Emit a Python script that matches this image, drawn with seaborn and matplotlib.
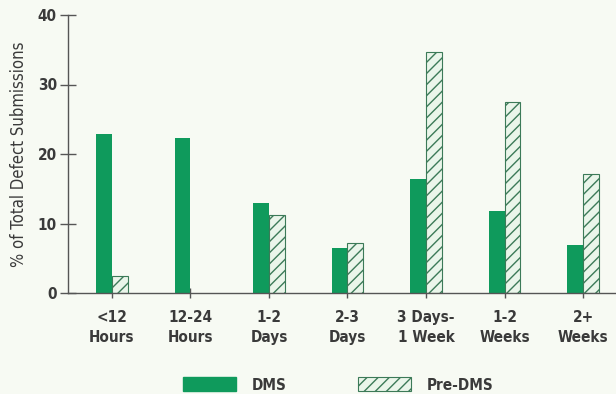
import matplotlib
matplotlib.use("Agg")
import matplotlib.pyplot as plt
from matplotlib.patches import Patch
import seaborn as sns
import pandas as pd

# Time to resolve a defect submission, before and after DMS
categories = ["<12\nHours", "12-24\nHours", "1-2\nDays", "2-3\nDays",
              "3 Days-\n1 Week", "1-2\nWeeks", "2+\nWeeks"]
dms = [22.9, 22.3, 12.9, 6.5, 16.4, 11.8, 6.9]
pre_dms = [2.4, 0.0, 11.2, 7.2, 34.7, 27.5, 17.1]
series = ["DMS", "Pre-DMS"]
yticks = [0, 10, 20, 30, 40]

df = pd.DataFrame({
    "category": categories * 2,
    "series": [series[0]] * len(categories) + [series[1]] * len(categories),
    "value": dms + pre_dms,
})

BG = "#f7faf3"
GREEN = "#0f9a5c"
HATCH_FILL = "#eaf5ea"
HATCH_EDGE = "#3c7a58"
TEXT = "#3a3a3a"
FAMILY = ["DejaVu Sans"]

sns.set_theme(style="white")
plt.rcParams["font.family"] = FAMILY
plt.rcParams["font.stretch"] = "condensed"
plt.rcParams["hatch.linewidth"] = 1.0

fig = plt.figure(figsize=(6.16, 3.94), dpi=100, facecolor=BG)
ax = fig.add_axes([68 / 616, 1 - 293 / 394, 1 - 68 / 616, (293 - 15) / 394])
ax.set_facecolor(BG)

sns.barplot(data=df, x="category", y="value", hue="series", order=categories,
            hue_order=series, palette=[GREEN, HATCH_FILL], width=0.4, gap=0,
            saturation=1, legend=False, ax=ax)

n = len(categories)
for i, bar in enumerate(ax.patches):
    if i < n:
        bar.set_facecolor(GREEN)
        bar.set_edgecolor(GREEN)
        bar.set_linewidth(0)
    elif i < 2 * n:
        bar.set_facecolor(HATCH_FILL)
        bar.set_edgecolor(HATCH_EDGE)
        bar.set_hatch("///")
        bar.set_linewidth(0.8)
        if bar.get_height() == 0:
            bar.set_visible(False)

ax.set_xlim(-0.56, n - 1 + 0.42)
ax.set_ylim(0, 40)
ax.set_yticks(yticks)
ax.set_xlabel("")
ax.set_ylabel("% of Total Defect Submissions", fontsize=12, color=TEXT,
              labelpad=7, fontstretch="condensed")

for side in ("top", "right"):
    ax.spines[side].set_visible(False)
for side in ("left", "bottom"):
    ax.spines[side].set_color("#555555")
    ax.spines[side].set_linewidth(1.0)

ax.tick_params(axis="y", direction="inout", length=12, width=1.0,
               color="#555555", labelsize=11, labelcolor=TEXT, pad=2, left=True)
ax.tick_params(axis="x", direction="inout", length=7, width=1.0,
               color="#555555", labelsize=11, labelcolor=TEXT, pad=9, bottom=True)
for lbl in ax.get_xticklabels() + ax.get_yticklabels():
    lbl.set_fontweight("bold")
    lbl.set_fontstretch("condensed")
for lbl in ax.get_xticklabels():
    lbl.set_linespacing(1.35)

handles = [Patch(facecolor=GREEN, edgecolor=GREEN, label=series[0]),
           Patch(facecolor=HATCH_FILL, edgecolor=HATCH_EDGE, hatch="///",
                 linewidth=0.8, label=series[1])]
leg = fig.legend(handles=handles, loc="center", bbox_to_anchor=(338 / 616, 1 - 385 / 394),
                 ncol=2, frameon=False, handlelength=3.5, handleheight=1.0,
                 handletextpad=1.0, columnspacing=4.7,
                 prop={"family": FAMILY, "stretch": "condensed",
                       "weight": "bold", "size": 11})
for t in leg.get_texts():
    t.set_color(TEXT)

fig.savefig("out.png", dpi=100, facecolor=BG)
